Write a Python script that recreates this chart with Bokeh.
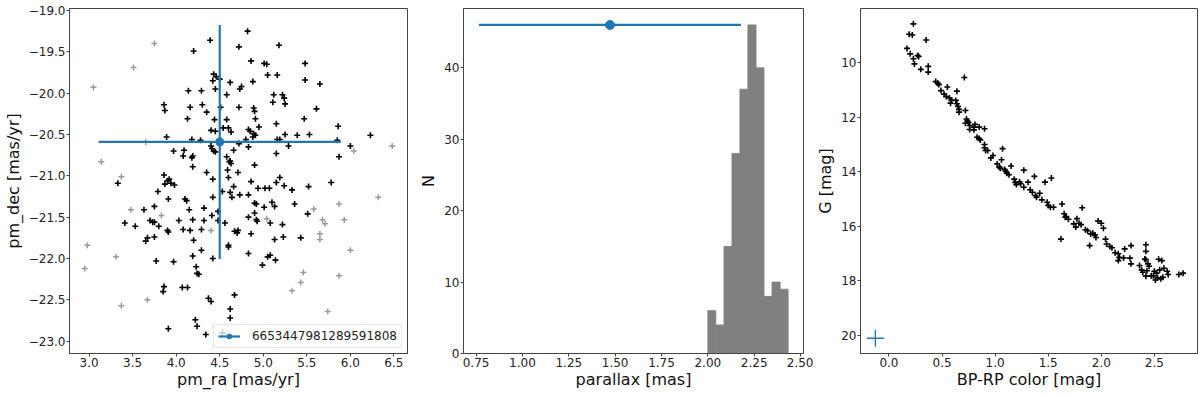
from bokeh.plotting import figure
from bokeh.layouts import row
from bokeh.models import Range1d, FixedTicker, CustomJSTickFormatter, Legend, LegendItem
from bokeh.embed import file_html
from bokeh.resources import INLINE

# ---------------- Panel 1: proper motions ----------------
pm_ra_members = [
    4.82, 4.39, 4.72, 5.18, 4.20, 4.86, 5.01, 5.04, 5.48, 5.48,
    5.65, 5.05, 5.16, 4.43, 4.46, 4.50, 4.42, 4.62, 4.88, 4.73,
    4.75, 4.45, 4.14, 4.29, 4.58, 5.12, 5.22, 5.24, 5.25, 5.11,
    3.86, 3.87, 4.16, 4.30, 4.35, 4.51, 4.72, 4.89, 4.90, 5.61,
    4.13, 4.40, 4.44, 4.58, 4.91, 4.95, 5.47, 5.86, 5.15, 4.54,
    4.60, 4.63, 4.83, 4.85, 4.89, 4.91, 4.45, 3.89, 4.18, 4.28,
    4.80, 4.88, 5.16, 5.19, 5.25, 5.39, 5.53, 5.85, 6.23, 6.00,
    4.72, 4.83, 5.29, 4.40, 4.41, 4.43, 4.45, 4.66, 3.97, 4.09,
    5.15, 4.08, 4.18, 4.19, 4.58, 4.62, 4.63, 4.61, 5.87, 4.19,
    4.90, 4.35, 4.59, 4.71, 3.86, 3.90, 3.92, 3.94, 4.42, 4.60,
    5.19, 4.86, 5.15, 3.87, 3.98, 3.33, 5.24, 5.78, 5.52, 4.66,
    3.79, 4.53, 4.62, 4.64, 4.73, 4.83, 4.94, 5.02, 5.07, 5.33,
    4.42, 3.91, 4.10, 4.12, 5.10, 4.90, 4.92, 5.36, 5.13, 3.63,
    3.75, 4.15, 4.32, 4.41, 4.48, 4.90, 5.01, 3.41, 3.53, 3.70,
    3.73, 3.75, 3.80, 4.03, 4.19, 4.32, 4.48, 4.56, 4.83, 4.92,
    4.93, 5.08, 5.22, 5.51, 3.90, 3.91, 4.08, 4.16, 4.29, 4.67,
    4.70, 4.71, 4.86, 3.65, 3.67, 3.75, 4.20, 4.60, 4.60, 5.13,
    5.23, 5.43, 4.19, 4.29, 4.42, 3.77, 3.97, 4.83, 5.05, 5.08,
    5.14, 4.99, 4.23, 4.24, 4.26, 3.86, 3.85, 4.07, 4.13, 4.37,
    4.40, 4.67, 4.62, 4.62, 4.22, 4.24, 3.91, 4.34, 4.53,
]
pm_dec_members = [
    -19.25, -19.36, -19.44, -19.42, -19.49, -19.61, -19.64, -19.65, -19.64, -19.84,
    -19.89, -19.78, -19.78, -19.77, -19.80, -19.83, -19.85, -19.87, -19.86, -19.95,
    -19.92, -19.95, -19.97, -19.97, -20.02, -20.02, -20.02, -20.06, -20.13, -20.11,
    -20.14, -20.21, -20.17, -20.14, -20.23, -20.17, -20.17, -20.18, -20.22, -20.19,
    -20.31, -20.45, -20.32, -20.32, -20.31, -20.41, -20.31, -20.40, -20.37, -20.42,
    -20.42, -20.47, -20.44, -20.46, -20.49, -20.51, -20.46, -20.53, -20.56, -20.57,
    -20.56, -20.53, -20.56, -20.56, -20.50, -20.51, -20.50, -20.57, -20.51, -20.64,
    -20.61, -20.65, -20.64, -20.64, -20.67, -20.70, -20.71, -20.69, -20.70, -20.69,
    -20.73, -20.76, -20.78, -20.76, -20.77, -20.82, -20.85, -20.83, -20.77, -20.89,
    -20.87, -20.96, -20.93, -20.96, -20.99, -21.06, -21.04, -21.09, -21.04, -21.02,
    -21.02, -21.07, -21.08, -21.10, -21.11, -21.09, -21.12, -21.08, -21.13, -21.13,
    -21.19, -21.19, -21.20, -21.26, -21.23, -21.23, -21.15, -21.15, -21.15, -21.17,
    -21.26, -21.28, -21.28, -21.30, -21.32, -21.33, -21.34, -21.34, -21.37, -21.41,
    -21.37, -21.41, -21.39, -21.48, -21.43, -21.45, -21.38, -21.57, -21.61, -21.54,
    -21.56, -21.56, -21.61, -21.54, -21.53, -21.54, -21.54, -21.57, -21.50, -21.53,
    -21.55, -21.57, -21.59, -21.46, -21.66, -21.68, -21.65, -21.66, -21.65, -21.67,
    -21.69, -21.66, -21.70, -21.79, -21.75, -21.74, -21.78, -21.84, -21.86, -21.77,
    -21.74, -21.75, -21.97, -21.90, -22.00, -22.03, -22.04, -21.94, -21.98, -21.96,
    -22.02, -22.08, -22.10, -22.18, -22.19, -22.34, -22.40, -22.35, -22.35, -22.48,
    -22.52, -22.44, -22.61, -22.72, -22.74, -22.82, -22.85, -22.92, -22.90,
]
pm_ra_field = [3.75, 3.51, 3.05, 3.14, 3.37, 3.48, 3.83, 2.98, 2.95, 3.31,
               3.37, 3.67, 4.40, 5.04, 5.58, 5.68, 5.71, 5.65, 5.65, 5.87,
               5.93, 6.00, 5.87, 5.46, 5.43, 5.33, 5.74, 6.32, 6.04, 6.48, 3.65]
pm_dec_field = [-19.40, -19.69, -19.93, -20.83, -21.01, -21.41, -21.48, -21.84, -22.12, -21.98,
                -22.57, -22.50, -21.66, -21.52, -21.40, -21.53, -21.58, -21.70, -21.77, -21.34,
                -21.53, -21.90, -22.21, -22.17, -22.29, -22.39, -22.64, -21.26, -20.70, -20.64, -20.59]
target_label = "6653447981289591808"
target_pm_ra = [4.50]
target_pm_ra_err = [1.39]
target_pm_dec = [-20.59]
target_pm_dec_err = [1.415]

# ---------------- Panel 2: parallax histogram ----------------
hist_edges = [2.000, 2.043, 2.087, 2.130, 2.173, 2.216, 2.260, 2.303, 2.346, 2.390, 2.433]
hist_counts = [6, 4, 15, 28, 37, 46, 40, 8, 10, 9]
target_plx = [1.472]
target_plx_err = [0.707]
target_plx_level = [46]

# ---------------- Panel 3: colour-magnitude diagram ----------------
bp_rp = [
    0.23, 0.19, 0.22, 0.35, 0.17, 0.20, 0.23, 0.27, 0.28, 0.24,
    0.30, 0.37, 0.37, 0.71, 0.44, 0.46, 0.47, 0.55, 0.49, 0.64,
    0.52, 0.54, 0.57, 0.59, 0.58, 0.63, 0.64, 0.65, 0.66, 0.66,
    0.72, 0.73, 0.74, 0.72, 0.75, 0.76, 0.80, 0.80, 0.85, 0.90,
    0.76, 0.81, 0.83, 0.85, 0.86, 0.90, 0.91, 0.93, 0.90, 1.07,
    0.98, 0.96, 1.06, 1.02, 1.04, 1.05, 1.09, 1.11, 1.10, 1.13,
    1.15, 1.27, 1.18, 1.19, 1.20, 1.23, 1.24, 1.27, 1.31, 1.37,
    1.33, 1.35, 1.38, 1.39, 1.42, 1.44, 1.47, 1.53, 1.49, 1.50,
    1.52, 1.55, 1.63, 1.65, 1.66, 1.67, 1.62, 1.69, 1.77, 1.74,
    1.79, 1.81, 1.82, 1.76, 1.85, 1.87, 1.90, 1.92, 1.89, 1.94,
    1.95, 1.97, 2.00, 2.02, 2.04, 2.05, 2.08, 2.10, 2.13, 2.16,
    2.17, 2.16, 2.21, 2.22, 2.28, 2.27, 2.28, 2.36, 2.38, 2.39,
    2.42, 2.42, 2.41, 2.42, 2.44, 2.42, 2.45, 2.43, 2.50, 2.52,
    2.55, 2.54, 2.57, 2.53, 2.56, 2.58, 2.49, 2.59, 2.62, 2.63,
    2.73, 2.77, 2.47, 2.51,
]
g_mag = [
    8.57, 8.95, 8.98, 9.16, 9.47, 9.67, 9.85, 9.73, 9.77, 10.04,
    10.24, 10.13, 10.34, 10.54, 10.69, 10.75, 10.80, 10.89, 11.02, 11.04,
    11.15, 11.24, 11.29, 11.37, 11.48, 11.38, 11.50, 11.60, 11.71, 11.81,
    11.75, 12.06, 12.14, 12.22, 12.19, 12.30, 12.36, 12.46, 12.36, 12.42,
    12.45, 12.26, 12.73, 12.78, 12.83, 13.00, 13.22, 13.22, 13.12, 13.15,
    13.40, 13.49, 13.56, 13.71, 13.83, 13.87, 13.92, 14.05, 13.98, 14.11,
    13.79, 13.94, 14.27, 14.39, 14.47, 14.37, 14.44, 14.57, 14.38, 14.17,
    14.66, 14.75, 14.87, 14.93, 14.79, 15.03, 14.38, 14.23, 15.12, 15.24,
    15.30, 15.30, 15.18, 15.54, 15.67, 15.64, 16.47, 15.74, 15.72, 15.91,
    15.89, 15.94, 15.32, 16.03, 16.13, 16.16, 16.28, 16.26, 16.71, 16.32,
    16.41, 15.81, 15.89, 16.07, 16.47, 16.65, 16.74, 16.79, 16.97, 17.01,
    17.14, 17.26, 17.16, 16.83, 16.71, 17.17, 17.38, 17.44, 17.60, 17.69,
    16.68, 16.92, 17.20, 17.23, 17.38, 17.83, 17.47, 17.63, 17.65, 17.72,
    17.60, 17.21, 17.26, 17.89, 17.93, 17.87, 17.82, 17.54, 17.65, 17.77,
    17.77, 17.72, 17.82, 17.97,
]
target_bp_rp = [-0.128]
target_g = [20.11]

# Tick positions
p1_xticks = [3.0, 3.5, 4.0, 4.5, 5.0, 5.5, 6.0, 6.5]
p1_yticks = [-23.0, -22.5, -22.0, -21.5, -21.0, -20.5, -20.0, -19.5, -19.0]
p2_xticks = [0.75, 1.00, 1.25, 1.50, 1.75, 2.00, 2.25, 2.50]
p2_yticks = [0, 10, 20, 30, 40]
p3_xticks = [0.0, 0.5, 1.0, 1.5, 2.0, 2.5]
p3_yticks = [10, 12, 14, 16, 18, 20]

FONT = "DejaVu Sans"
BLUE = "#1f77b4"
SPINE = "#444444"


def fmt(dec):
    return CustomJSTickFormatter(
        code="return (tick < -1e-9 ? '\u2212' : '') + Math.abs(tick).toFixed(%d);" % dec)


def style(p, xticks, yticks, xdec, ydec, xlabel, ylabel):
    p.grid.visible = False
    p.outline_line_color = SPINE
    p.outline_line_width = 1
    p.outline_line_alpha = 1
    p.background_fill_color = "white"
    p.border_fill_color = "white"
    for ax in (p.xaxis[0], p.yaxis[0]):
        ax.axis_line_color = SPINE
        ax.major_tick_line_color = SPINE
        ax.major_tick_in = 0
        ax.major_tick_out = 3
        ax.minor_tick_line_color = None
        ax.major_label_text_font = FONT
        ax.major_label_text_font_size = "12px"
        ax.major_label_text_color = "#222222"
        ax.major_label_standoff = 1
        ax.axis_label_text_font = FONT
        ax.axis_label_text_font_size = "16px"
        ax.axis_label_text_font_style = "normal"
        ax.axis_label_text_color = "#111111"
        ax.axis_label_standoff = 0
    p.yaxis[0].axis_label_standoff = 3
    p.xaxis[0].ticker = FixedTicker(ticks=xticks)
    p.yaxis[0].ticker = FixedTicker(ticks=yticks)
    p.xaxis[0].formatter = fmt(xdec)
    p.yaxis[0].formatter = fmt(ydec)
    p.xaxis[0].axis_label = xlabel
    p.yaxis[0].axis_label = ylabel


H = 394
TOP = 8
BOTTOM = 41

# ---- Figure 1
p1 = figure(width=412, height=H, output_backend="svg", toolbar_location=None,
            x_range=Range1d(2.775, 6.656), y_range=Range1d(-23.149, -18.976),
            min_border_left=67, min_border_right=5, min_border_top=TOP, min_border_bottom=BOTTOM)
style(p1, p1_xticks, p1_yticks, 1, 1, "pm_ra [mas/yr]", "pm_dec [mas/yr]")
p1.scatter(pm_ra_field, pm_dec_field, marker="cross", size=6, line_width=1.5,
           color="#8a8a8a", alpha=0.85)
p1.scatter(pm_ra_members, pm_dec_members, marker="cross", size=6, line_width=1.6,
           color="black")
hseg = p1.segment(x0=[target_pm_ra[0] - target_pm_ra_err[0]], y0=target_pm_dec,
                  x1=[target_pm_ra[0] + target_pm_ra_err[0]], y1=target_pm_dec,
                  line_color=BLUE, line_width=2.2)
vseg = p1.segment(x0=target_pm_ra, y0=[target_pm_dec[0] - target_pm_dec_err[0]],
                  x1=target_pm_ra, y1=[target_pm_dec[0] + target_pm_dec_err[0]],
                  line_color=BLUE, line_width=2.2)
dot1 = p1.scatter(target_pm_ra, target_pm_dec, marker="circle", size=8, color=BLUE)
leg = Legend(items=[LegendItem(label=target_label, renderers=[hseg, dot1])],
             location="bottom_right")
leg.label_text_font = FONT
leg.label_text_font_size = "12px"
leg.label_text_color = "#222222"
leg.padding = 4
leg.margin = 5
leg.spacing = 0
leg.glyph_width = 22
leg.glyph_height = 12
leg.label_height = 12
leg.label_standoff = 12
leg.border_line_color = "#cccccc"
leg.border_line_width = 1
leg.background_fill_alpha = 0.8
p1.add_layout(leg)

# ---- Figure 2
p2 = figure(width=401, height=H, output_backend="svg", toolbar_location=None,
            x_range=Range1d(0.682, 2.516), y_range=Range1d(0, 48.3),
            min_border_left=51, min_border_right=10, min_border_top=TOP, min_border_bottom=BOTTOM)
style(p2, p2_xticks, p2_yticks, 2, 0, "parallax [mas]", "N")
p2.quad(left=hist_edges[:-1], right=hist_edges[1:], bottom=0, top=hist_counts,
        fill_color="#808080", line_color="#808080", line_width=0.8)
p2.segment(x0=[target_plx[0] - target_plx_err[0]], y0=target_plx_level,
           x1=[target_plx[0] + target_plx_err[0]], y1=target_plx_level,
           line_color=BLUE, line_width=2.2)
p2.scatter(target_plx, target_plx_level, marker="circle", size=9, color=BLUE)

# ---- Figure 3
p3 = figure(width=386, height=H, output_backend="svg", toolbar_location=None,
            x_range=Range1d(-0.268, 2.906), y_range=Range1d(20.67, 8.006),
            min_border_left=44, min_border_right=2, min_border_top=TOP, min_border_bottom=BOTTOM)
style(p3, p3_xticks, p3_yticks, 1, 0, "BP-RP color [mag]", "G [mag]")
p3.scatter(bp_rp, g_mag, marker="cross", size=6, line_width=1.6, color="black")
p3.scatter(target_bp_rp, target_g, marker="cross", size=17, line_width=1.3, color=BLUE)

layout = row(p1, p2, p3, spacing=0)

with open("out.html", "w") as f:
    f.write(file_html(layout, INLINE))
